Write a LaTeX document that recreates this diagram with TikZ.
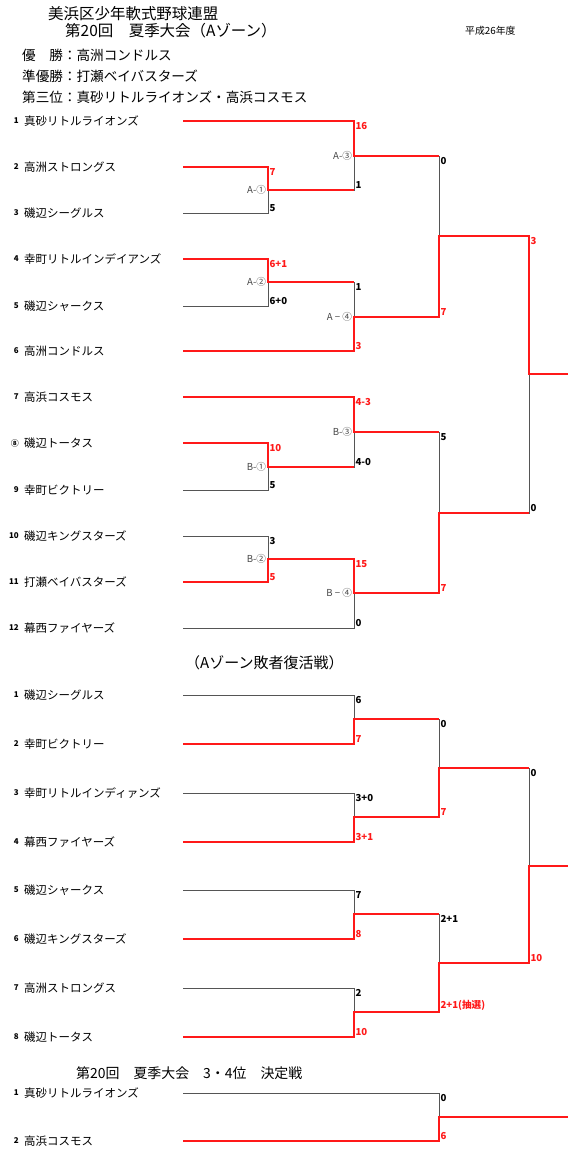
\documentclass[tikz,border=0pt]{standalone}
\usepackage{fontspec}
\newfontfamily\jp{Noto Sans CJK JP}
\usepackage{xcolor}
\definecolor{winred}{RGB}{255, 25, 25}
\definecolor{losegray}{RGB}{85, 85, 85}
\definecolor{matchgray}{RGB}{70, 70, 70}
\usepackage{tikz}

\tikzset{
  team/.style={anchor=west, inner sep=0pt, font=\jp\fontsize{9.8}{10}\selectfont},
  num/.style={anchor=east, inner sep=0pt, font=\jp\bfseries\fontsize{6.8}{7}\selectfont},
  head/.style={anchor=west, inner sep=0pt, font=\jp\fontsize{#1}{#1}\selectfont},
  win/.style={draw=winred, line width=1.35pt},
  lose/.style={draw=losegray, line width=0.8pt},
  score/.style={anchor=#1, inner sep=1.2pt, font=\jp\bfseries\fontsize{8.2}{8}\selectfont},
  wscore/.style={score=#1, text=winred},
  match/.style={anchor=east, inner sep=1.5pt, text=matchgray, font=\jp\fontsize{8.2}{8}\selectfont},
}

\begin{document}
\begin{tikzpicture}[x=0.3mm, y=-0.3mm]
\useasboundingbox (0,0) rectangle (568,1154);

% cabecera
\node[head=13.2] (h1) at (48,14) {美浜区少年軟式野球連盟};
\node[head=13.2] (h2) at (65,31) {第20回　夏季大会（Aゾーン）};
\node[head=8.4] (h3) at (465,31) {平成26年度};
\node[head=11.6] (r1) at (22,55) {優　勝：高洲コンドルス};
\node[head=11.6] (r2) at (22,76) {準優勝：打瀬ベイバスターズ};
\node[head=11.6] (r3) at (22,97) {第三位：真砂リトルライオンズ・高浜コスモス};

% Aゾーン 本戦
\node[num] (an1) at (19,121) {1};  \node[team] (a1) at (24,121) {真砂リトルライオンズ};  \coordinate (as1) at (183,121);
\node[num] (an2) at (19,167) {2};  \node[team] (a2) at (24,167) {高洲ストロングス};  \coordinate (as2) at (183,167);
\node[num] (an3) at (19,213) {3};  \node[team] (a3) at (24,213) {磯辺シーグルス};  \coordinate (as3) at (183,213);
\node[num] (an4) at (19,259) {4};  \node[team] (a4) at (24,259) {幸町リトルインデイアンズ};  \coordinate (as4) at (183,259);
\node[num] (an5) at (19,306) {5};  \node[team] (a5) at (24,306) {磯辺シャークス};  \coordinate (as5) at (183,306);
\node[num] (an6) at (19,351) {6};  \node[team] (a6) at (24,351) {高洲コンドルス};  \coordinate (as6) at (183,351);
\node[num] (an7) at (19,397) {7};  \node[team] (a7) at (24,397) {高浜コスモス};  \coordinate (as7) at (183,397);
\node[num] (an8) at (19,443) {⑧};  \node[team] (a8) at (24,443) {磯辺トータス};  \coordinate (as8) at (183,443);
\node[num] (an9) at (19,490) {9};  \node[team] (a9) at (24,490) {幸町ビクトリー};  \coordinate (as9) at (183,490);
\node[num] (an10) at (19,536) {10};  \node[team] (a10) at (24,536) {磯辺キングスターズ};  \coordinate (as10) at (183,536);
\node[num] (an11) at (19,582) {11};  \node[team] (a11) at (24,582) {打瀬ベイバスターズ};  \coordinate (as11) at (183,582);
\node[num] (an12) at (19,628) {12};  \node[team] (a12) at (24,628) {幕西ファイヤーズ};  \coordinate (as12) at (183,628);

\coordinate (mA1) at (268,190);
\coordinate (mA2) at (268,282);
\coordinate (mA3) at (354,156);
\coordinate (mA4) at (354,317);
\coordinate (mAS) at (439,236);
\coordinate (mB1) at (268,467);
\coordinate (mB2) at (268,559);
\coordinate (mB3) at (354,432);
\coordinate (mB4) at (354,593);
\coordinate (mBS) at (439,513);
\coordinate (mF) at (529,374);
\coordinate (endA) at (568,374);

\draw[lose] (as1) -| (mA3);  \draw[lose] (as2) -| (mA1);  \draw[lose] (as3) -| (mA1);
\draw[lose] (as4) -| (mA2);  \draw[lose] (as5) -| (mA2);  \draw[lose] (as6) -| (mA4);
\draw[lose] (as7) -| (mB3);  \draw[lose] (as8) -| (mB1);  \draw[lose] (as9) -| (mB1);
\draw[lose] (as10) -| (mB2);  \draw[lose] (as11) -| (mB2);  \draw[lose] (as12) -| (mB4);
\draw[lose] (mA1) -| (mA3);  \draw[lose] (mA2) -| (mA4);
\draw[lose] (mB1) -| (mB3);  \draw[lose] (mB2) -| (mB4);
\draw[lose] (mA3) -| (mAS);  \draw[lose] (mA4) -| (mAS);
\draw[lose] (mB3) -| (mBS);  \draw[lose] (mB4) -| (mBS);
\draw[lose] (mAS) -| (mF);  \draw[lose] (mBS) -| (mF);

\draw[win] (as1) -| (mA3) -- (mA3 -| mAS);
\draw[win] (as2) -| (mA1) -- (mA1 -| mA3);
\draw[win] (as4) -| (mA2) -- (mA2 -| mA4);
\draw[win] (as6) -| (mA4) -| (mAS) -| (mF) -- (endA);
\draw[win] (as7) -| (mB3) -- (mB3 -| mBS);
\draw[win] (as8) -| (mB1) -- (mB1 -| mB3);
\draw[win] (as11) -| (mB2) -| (mB4) -| (mBS) -- (mBS -| mF);

\node[match] (lA1) at (mA1) {A-①};
\node[match] (lA2) at (mA2) {A-②};
\node[match] (lA3) at (mA3) {A-③};
\node[match] (lA4) at (mA4) {A − ④};
\node[match] (lB1) at (mB1) {B-①};
\node[match] (lB2) at (mB2) {B-②};
\node[match] (lB3) at (mB3) {B-③};
\node[match] (lB4) at (mB4) {B − ④};

\node[wscore=north west] (sA1a) at (as2 -| mA1) {7};
\node[score=south west] (sA1b) at (as3 -| mA1) {5};
\node[wscore=north west] (sA2a) at (as4 -| mA2) {6+1};
\node[score=south west] (sA2b) at (as5 -| mA2) {6+0};
\node[wscore=north west] (sA3a) at (as1 -| mA3) {16};
\node[score=south west] (sA3b) at (mA1 -| mA3) {1};
\node[score=north west] (sA4a) at (mA2 -| mA4) {1};
\node[wscore=south west] (sA4b) at (as6 -| mA4) {3};
\node[score=north west] (sASa) at (mA3 -| mAS) {0};
\node[wscore=south west] (sASb) at (mA4 -| mAS) {7};
\node[wscore=north west] (sFa) at (mAS -| mF) {3};
\node[score=south west] (sFb) at (mBS -| mF) {0};
\node[wscore=north west] (sB1a) at (as8 -| mB1) {10};
\node[score=south west] (sB1b) at (as9 -| mB1) {5};
\node[score=north west] (sB2a) at (as10 -| mB2) {3};
\node[wscore=south west] (sB2b) at (as11 -| mB2) {5};
\node[wscore=north west] (sB3a) at (as7 -| mB3) {4-3};
\node[score=south west] (sB3b) at (mB1 -| mB3) {4-0};
\node[wscore=north west] (sB4a) at (mB2 -| mB4) {15};
\node[score=south west] (sB4b) at (as12 -| mB4) {0};
\node[score=north west] (sBSa) at (mB3 -| mBS) {5};
\node[wscore=south west] (sBSb) at (mB4 -| mBS) {7};

% 敗者復活戦
\node[head=12.8] (h4) at (185,663) {（Aゾーン敗者復活戦）};

\node[num] (bn1) at (19,695) {1};  \node[team] (b1) at (24,695) {磯辺シーグルス};  \coordinate (bs1) at (183,695);
\node[num] (bn2) at (19,744) {2};  \node[team] (b2) at (24,744) {幸町ビクトリー};  \coordinate (bs2) at (183,744);
\node[num] (bn3) at (19,793) {3};  \node[team] (b3) at (24,793) {幸町リトルインディァンズ};  \coordinate (bs3) at (183,793);
\node[num] (bn4) at (19,842) {4};  \node[team] (b4) at (24,842) {幕西ファイヤーズ};  \coordinate (bs4) at (183,842);
\node[num] (bn5) at (19,890) {5};  \node[team] (b5) at (24,890) {磯辺シャークス};  \coordinate (bs5) at (183,890);
\node[num] (bn6) at (19,939) {6};  \node[team] (b6) at (24,939) {磯辺キングスターズ};  \coordinate (bs6) at (183,939);
\node[num] (bn7) at (19,988) {7};  \node[team] (b7) at (24,988) {高洲ストロングス};  \coordinate (bs7) at (183,988);
\node[num] (bn8) at (19,1037) {8};  \node[team] (b8) at (24,1037) {磯辺トータス};  \coordinate (bs8) at (183,1037);

\coordinate (mL1) at (354,719);
\coordinate (mL2) at (354,817);
\coordinate (mL3) at (354,914);
\coordinate (mL4) at (354,1012);
\coordinate (mLS1) at (439,768);
\coordinate (mLS2) at (439,963);
\coordinate (mLF) at (529,866);
\coordinate (endL) at (568,866);

\draw[lose] (bs1) -| (mL1);  \draw[lose] (bs2) -| (mL1);
\draw[lose] (bs3) -| (mL2);  \draw[lose] (bs4) -| (mL2);
\draw[lose] (bs5) -| (mL3);  \draw[lose] (bs6) -| (mL3);
\draw[lose] (bs7) -| (mL4);  \draw[lose] (bs8) -| (mL4);
\draw[lose] (mL1) -| (mLS1);  \draw[lose] (mL2) -| (mLS1);
\draw[lose] (mL3) -| (mLS2);  \draw[lose] (mL4) -| (mLS2);
\draw[lose] (mLS1) -| (mLF);  \draw[lose] (mLS2) -| (mLF);

\draw[win] (bs2) -| (mL1) -- (mL1 -| mLS1);
\draw[win] (bs4) -| (mL2) -| (mLS1) -- (mLS1 -| mLF);
\draw[win] (bs6) -| (mL3) -- (mL3 -| mLS2);
\draw[win] (bs8) -| (mL4) -| (mLS2) -| (mLF) -- (endL);

\node[score=north west] (sL1a) at (bs1 -| mL1) {6};
\node[wscore=south west] (sL1b) at (bs2 -| mL1) {7};
\node[score=north west] (sL2a) at (bs3 -| mL2) {3+0};
\node[wscore=south west] (sL2b) at (bs4 -| mL2) {3+1};
\node[score=north west] (sL3a) at (bs5 -| mL3) {7};
\node[wscore=south west] (sL3b) at (bs6 -| mL3) {8};
\node[score=north west] (sL4a) at (bs7 -| mL4) {2};
\node[wscore=south west] (sL4b) at (bs8 -| mL4) {10};
\node[score=north west] (sLS1a) at (mL1 -| mLS1) {0};
\node[wscore=south west] (sLS1b) at (mL2 -| mLS1) {7};
\node[score=north west] (sLS2a) at (mL3 -| mLS2) {2+1};
\node[wscore=south west] (sLS2b) at (mL4 -| mLS2) {2+1(抽選)};
\node[score=north west] (sLFa) at (mLS1 -| mLF) {0};
\node[wscore=south west] (sLFb) at (mLS2 -| mLF) {10};

% 3・4位 決定戦
\node[head=11.9] (h5) at (76,1073) {第20回　夏季大会　3・4位　決定戦};

\node[num] (cn1) at (19,1093) {1};  \node[team] (c1) at (24,1093) {真砂リトルライオンズ};  \coordinate (cs1) at (183,1093);
\node[num] (cn2) at (19,1141) {2};  \node[team] (c2) at (24,1141) {高浜コスモス};  \coordinate (cs2) at (183,1141);

\coordinate (mT) at (439,1117);
\coordinate (endT) at (568,1117);

\draw[lose] (cs1) -| (mT);  \draw[lose] (cs2) -| (mT);
\draw[win] (cs2) -| (mT) -- (endT);

\node[score=north west] (sTa) at (cs1 -| mT) {0};
\node[wscore=south west] (sTb) at (cs2 -| mT) {6};
\end{tikzpicture}
\end{document}
